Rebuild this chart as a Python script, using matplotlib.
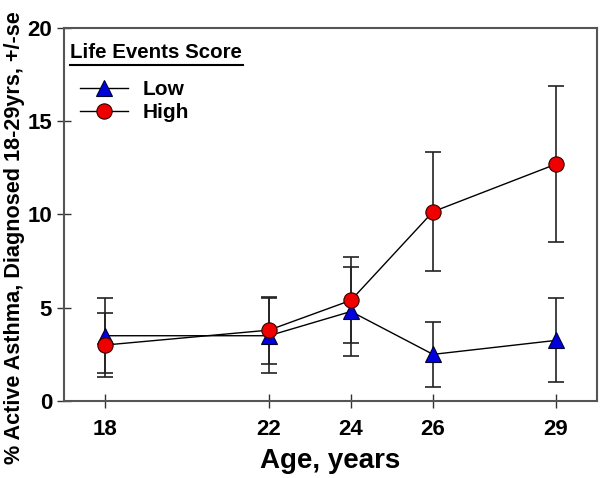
import numpy as np
import matplotlib.pyplot as plt
from matplotlib.lines import Line2D

plt.rcParams.update({
    "font.family": ["Liberation Sans", "DejaVu Sans"],
    "font.weight": "bold",
})

# ── Data ──────────────────────────────────────────────────────────────────────
ages = [18, 22, 24, 26, 29]
low_vals = [3.5, 3.5, 4.8, 2.5, 3.25]
low_err = [2.0, 2.0, 2.4, 1.75, 2.25]
high_vals = [3.0, 3.8, 5.4, 10.15, 12.7]
high_err = [1.7, 1.8, 2.3, 3.2, 4.2]

fig = plt.figure(figsize=(6.0, 4.78), dpi=100)
ax = fig.add_axes([64 / 600, 77 / 478, 533 / 600, 373 / 478])

ax.errorbar(ages, low_vals, yerr=low_err, fmt="none", ecolor="#222222",
            elinewidth=1.2, capsize=6, capthick=1.2, zorder=2)
ax.errorbar(ages, high_vals, yerr=high_err, fmt="none", ecolor="#222222",
            elinewidth=1.2, capsize=6, capthick=1.2, zorder=2)
ax.plot(ages, low_vals, "-^", color="black", lw=1, ms=11,
        mfc="#0000dd", mec="#000033", mew=0.8, label="Low", zorder=3)
ax.plot(ages, high_vals, "-o", color="black", lw=1, ms=11,
        mfc="#ee0000", mec="#330000", mew=0.8, label="High", zorder=4)

ax.set_xlim(17, 30)
ax.set_ylim(0, 20)
ax.set_xticks(ages)
ax.set_yticks([0, 5, 10, 15, 20])
ax.tick_params(direction="inout", length=10, width=1, labelsize=16,
               color="#333333")
ax.tick_params(axis="x", pad=8)
for lab in ax.get_xticklabels() + ax.get_yticklabels():
    lab.set_fontweight("bold")
for s in ax.spines.values():
    s.set_color("#555555")
    s.set_linewidth(1.5)

ax.set_xlabel("Age, years", fontsize=20, fontweight="bold", labelpad=6)
fig.text(0.024, 14 / 478, "% Active Asthma, Diagnosed 18-29yrs, +/-se",
         rotation=90, ha="center", va="bottom", fontsize=15.6, fontweight="bold")

# legend with underlined title
ax.text(0.012, 0.935, "Life Events Score", transform=ax.transAxes,
        fontsize=14.8, fontweight="bold", ha="left", va="center")
ax.add_line(Line2D([0.012, 0.335], [0.9, 0.9], transform=ax.transAxes,
                   color="black", lw=1.5))
leg = ax.legend(loc="upper left", bbox_to_anchor=(-0.005, 0.91), frameon=False,
                fontsize=15, handlelength=2.3, labelspacing=0.2,
                handletextpad=0.7)
for t in leg.get_texts():
    t.set_fontweight("bold")

fig.savefig("out.png", dpi=100)
